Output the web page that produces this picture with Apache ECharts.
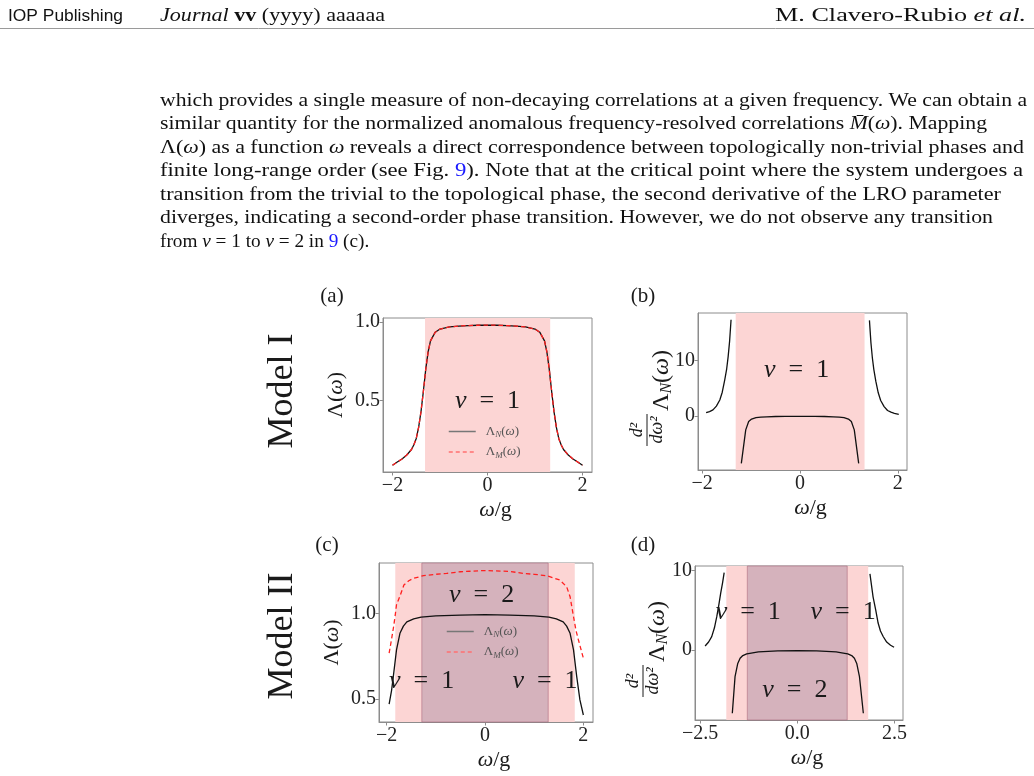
<!DOCTYPE html>
<html><head><meta charset="utf-8">
<script src="https://cdn.jsdelivr.net/npm/echarts@6/dist/echarts.min.js"></script>
<style>html,body{margin:0;padding:0;background:#fff}#c{width:1034px;height:776px}</style>
</head><body><div id="c"></div><script>
// ---------- data ----------
// Panel (a): Model I, Lambda(omega)
const omegaA = [-2.0,-1.9,-1.8,-1.7,-1.6,-1.55,-1.5,-1.45,-1.4,-1.35,-1.3,-1.25,-1.2,-1.1,-1.0,-0.8,-0.6,-0.4,-0.2,0,0.2,0.4,0.6,0.8,1.0,1.1,1.2,1.25,1.3,1.35,1.4,1.45,1.5,1.55,1.6,1.7,1.8,1.9,2.0];
const lambdaNA = [0.09,0.11,0.13,0.155,0.19,0.22,0.26,0.33,0.43,0.56,0.70,0.81,0.88,0.935,0.955,0.968,0.974,0.977,0.979,0.98,0.979,0.977,0.974,0.968,0.955,0.935,0.88,0.81,0.70,0.56,0.43,0.33,0.26,0.22,0.19,0.155,0.13,0.11,0.09];
const lambdaMA = [0.09,0.11,0.13,0.155,0.19,0.22,0.26,0.33,0.43,0.56,0.70,0.81,0.88,0.935,0.955,0.968,0.974,0.977,0.979,0.98,0.979,0.977,0.974,0.968,0.955,0.935,0.88,0.81,0.70,0.56,0.43,0.33,0.26,0.22,0.19,0.155,0.13,0.11,0.09];
// Panel (b): Model I, second derivative (three branches)
const omegaB1 = [-1.92,-1.85,-1.78,-1.71,-1.64,-1.59,-1.54,-1.5,-1.47,-1.44,-1.41];
const d2B1 = [0.6,0.8,1.1,1.8,2.9,4.3,6.5,8.5,10.7,13.5,17.4];
const omegaB2 = [-1.2,-1.11,-1.05,-0.99,-0.9,-0.8,-0.68,-0.5,-0.3,0,0.3,0.5,0.68,0.8,0.9,0.99,1.05,1.11,1.2];
const d2B2 = [-8.55,-2.5,-1.0,-0.55,-0.3,-0.2,-0.14,-0.09,-0.06,-0.05,-0.06,-0.09,-0.14,-0.2,-0.3,-0.55,-1.0,-2.5,-8.55];
const omegaB3 = [1.42,1.45,1.48,1.51,1.55,1.6,1.65,1.72,1.79,1.86,1.93,2.02];
const d2B3 = [17.3,13.3,10.5,8.4,6.3,4.2,2.8,1.7,1.0,0.7,0.5,0.3];
// Panel (c): Model II, Lambda_N and Lambda_M
const omegaNC = [-1.95,-1.9,-1.865,-1.8,-1.73,-1.66,-1.59,-1.45,-1.3,-1.0,-0.5,0,0.5,1.0,1.3,1.45,1.59,1.66,1.73,1.8,1.865,1.93,2.0];
const lambdaNC = [0.47,0.55,0.63,0.786,0.883,0.925,0.95,0.968,0.978,0.985,0.99,0.992,0.99,0.985,0.978,0.968,0.95,0.925,0.883,0.786,0.63,0.494,0.406];
const omegaMC = [-1.95,-1.9,-1.86,-1.83,-1.8,-1.73,-1.65,-1.55,-1.46,-1.25,-1.0,-0.78,-0.5,0,0.5,0.78,1.0,1.25,1.525,1.66,1.73,1.8,1.85,1.9,2.0];
const lambdaMC = [0.767,0.85,0.92,0.98,1.05,1.10,1.165,1.19,1.204,1.22,1.228,1.233,1.243,1.25,1.245,1.233,1.228,1.22,1.194,1.155,1.097,0.98,0.9,0.844,0.738];
// Panel (d): Model II, second derivative (three branches)
const omegaD1 = [-2.37,-2.28,-2.2,-2.13,-2.07,-2.02,-1.97,-1.92,-1.88];
const d2D1 = [0.5,1.0,1.68,2.8,4.2,5.6,7.15,8.5,9.75];
const omegaD2 = [-1.67,-1.6,-1.53,-1.47,-1.4,-1.3,-1.22,-1.0,-0.5,0,0.5,1.0,1.22,1.3,1.4,1.47,1.53,1.6,1.70];
const d2D2 = [-7.98,-3.36,-1.7,-1.05,-0.7,-0.5,-0.42,-0.25,-0.12,-0.08,-0.12,-0.25,-0.42,-0.5,-0.7,-1.05,-1.7,-3.36,-7.98];
const omegaD3 = [1.87,1.95,2.02,2.08,2.14,2.21,2.3,2.4,2.49];
const d2D3 = [9.6,6.7,5.0,3.4,2.4,1.7,1.0,0.6,0.34];
// phase boundaries
const phaseA = [-1.315, 1.32];
const phaseB = [-1.315, 1.32];
const phaseOuterII = [-1.825, 1.825];
const phaseInnerII = [-1.285, 1.285];
// tick values
const ticksX1 = [-2, 0, 2];
const ticksXD = [-2.5, 0, 2.5];
const ticksYA = [0.5, 1.0];
const ticksYB = [0, 10];
// paragraph text
const paraLines = [
  [['which provides a single measure of non-decaying correlations at a given frequency. We can obtain a','n']],
  [['similar quantity for the normalized anomalous frequency-resolved correlations ','n'],['M\u0304','i'],['(','n'],['ω','i'],['). Mapping','n']],
  [['Λ(','n'],['ω','i'],[') as a function ','n'],['ω','i'],[' reveals a direct correspondence between topologically non-trivial phases and','n']],
  [['finite long-range order (see Fig. ','n'],['9','b'],['). Note that at the critical point where the system undergoes a','n']],
  [['transition from the trivial to the topological phase, the second derivative of the LRO parameter','n']],
  [['diverges, indicating a second-order phase transition. However, we do not observe any transition','n']],
  [['from ','n'],['ν','i'],[' = 1 to ','n'],['ν','i'],[' = 2 in ','n'],['9','b'],[' (c).','n']]
];

// ---------- layout ----------
const FONT = '"Liberation Serif","DejaVu Serif",serif';
const INK = '#1a1a1a';
const FRAME = '#8c8c8c';
const LIGHT = '#fcd5d4';
const DARK = '#d5b2bc';
const zip = (xs, ys) => xs.map((x, i) => [x, ys[i]]);
const minus = v => String(v).replace('-', '\u2212');

const grids = [
  {left: 383, top: 318, width: 209, height: 154},
  {left: 698, top: 313, width: 209, height: 157},
  {left: 379, top: 563, width: 214, height: 159},
  {left: 695, top: 566, width: 208, height: 154}
].map(g => Object.assign(g, {show: true, borderColor: FRAME, borderWidth: 1, backgroundColor: 'transparent'}));

const richMath = {
  n: {fontFamily: FONT, fontSize: 22, color: INK},
  i: {fontFamily: FONT, fontSize: 22, color: INK, fontStyle: 'italic'}
};
function xAx(gi, min, max, ticks, fmt) {
  return {
    type: 'value', gridIndex: gi, min, max,
    name: '{i|ω}{n|/g}', nameLocation: 'middle', nameGap: 27,
    nameTextStyle: {rich: richMath, padding: [0, 0, 0, 16]},
    axisLine: {show: true, onZero: false, lineStyle: {color: FRAME}},
    axisTick: {show: true, length: 3.5, customValues: ticks, lineStyle: {color: FRAME}},
    axisLabel: {customValues: ticks, formatter: fmt, fontFamily: FONT, fontSize: 20, color: '#222', margin: 4},
    splitLine: {show: false}
  };
}
function yAx(gi, min, max, ticks, fmt, name) {
  return {
    type: 'value', gridIndex: gi, min, max,
    name: name || '', nameLocation: 'middle', nameGap: 36,
    nameTextStyle: {rich: richMath},
    axisLine: {show: true, onZero: false, lineStyle: {color: FRAME}},
    axisTick: {show: true, length: 3.5, customValues: ticks, lineStyle: {color: FRAME}},
    axisLabel: {customValues: ticks, formatter: fmt, fontFamily: FONT, fontSize: 20, color: '#222', margin: 3},
    splitLine: {show: false}
  };
}
const fmtInt = v => minus(Math.round(v * 10) / 10);
const fmt1 = v => minus(v.toFixed(1));

const nuRich = {
  i: {fontFamily: FONT, fontSize: 26, color: INK, fontStyle: 'italic'},
  n: {fontFamily: FONT, fontSize: 26, color: INK}
};
function nuMarks(list) {
  return {
    symbol: 'circle', symbolSize: 1, silent: true,
    itemStyle: {color: 'rgba(0,0,0,0)'},
    label: {show: true, position: 'inside', formatter: p => '{i|ν}{n|\u2002=\u2002' + p.name + '}', rich: nuRich},
    data: list.map(([v, c]) => ({name: v, coord: c}))
  };
}
function line(name, xi, data, color, dashed, extra) {
  return Object.assign({
    type: 'line', name, xAxisIndex: xi, yAxisIndex: xi, data,
    symbol: 'none', smooth: false, silent: true, animation: false,
    lineStyle: {color, width: 1.3, type: dashed ? [4.5, 3] : 'solid'},
    itemStyle: {color}, z: 3
  }, extra || {});
}
function area1(range) {
  return {silent: true, itemStyle: {color: LIGHT}, data: [[{xAxis: range[0]}, {xAxis: range[1]}]]};
}
function area2() {
  return {silent: true, data: [
    [{xAxis: phaseOuterII[0], itemStyle: {color: LIGHT}}, {xAxis: phaseOuterII[1]}],
    [{xAxis: phaseInnerII[0], itemStyle: {color: DARK, borderColor: 'rgba(170,100,120,0.55)', borderWidth: 1}}, {xAxis: phaseInnerII[1]}]
  ]};
}

const NAME_N = 'ΛN(ω)', NAME_M = 'ΛM(ω)';
const series = [
  line(NAME_N, 0, zip(omegaA, lambdaNA), '#111', false, {markArea: area1(phaseA), markPoint: nuMarks([['1', [0, 0.494]]])}),
  line(NAME_M, 0, zip(omegaA, lambdaMA), '#ff2020', true),
  line('b1', 1, zip(omegaB1, d2B1), '#111', false, {markArea: area1(phaseB), markPoint: nuMarks([['1', [-0.07, 8.3]]])}),
  line('b2', 1, zip(omegaB2, d2B2), '#111', false),
  line('b3', 1, zip(omegaB3, d2B3), '#111', false),
  line(NAME_N, 2, zip(omegaNC, lambdaNC), '#111', false, {markArea: area2(), markPoint: nuMarks([['2', [-0.07, 1.107]], ['1', [-1.29, 0.601]], ['1', [1.22, 0.601]]])}),
  line(NAME_M, 2, zip(omegaMC, lambdaMC), '#ff2020', true),
  line('d1', 3, zip(omegaD1, d2D1), '#111', false, {markArea: area2(), markPoint: nuMarks([['1', [-1.26, 4.83]], ['1', [1.18, 4.83]], ['2', [-0.06, -5.04]]])}),
  line('d2', 3, zip(omegaD2, d2D2), '#111', false),
  line('d3', 3, zip(omegaD3, d2D3), '#111', false)
];

const legRich = {
  m: {fontFamily: FONT, fontSize: 13, color: '#555'},
  mi: {fontFamily: FONT, fontSize: 13, color: '#555', fontStyle: 'italic'},
  s: {fontFamily: FONT, fontSize: 9, color: '#555', fontStyle: 'italic', padding: [7, 0, 0, 0]}
};
const HIDE = {color: 'rgba(0,0,0,0)', borderWidth: 0, borderColor: 'rgba(0,0,0,0)'};
function legend(left, top) {
  return {
    left, top, orient: 'vertical', padding: 0, itemWidth: 27, itemHeight: 14, itemGap: 6,
    selectedMode: false,
    data: [
      {name: NAME_N, lineStyle: {color: '#777', width: 1.5, type: 'solid'}, itemStyle: HIDE},
      {name: NAME_M, lineStyle: {color: '#ff7070', width: 1.5, type: [4, 3]}, itemStyle: HIDE}
    ],
    formatter: n => '{m|Λ}{s|' + (n === NAME_N ? 'N' : 'M') + '}{m|(}{mi|ω}{m|)}',
    textStyle: {rich: legRich, padding: [0, 0, 0, 5]}
  };
}

// ---------- page text (graphic) ----------
const ctx = document.createElement('canvas').getContext('2d');
function measureSegs(segs, size) {
  let w = 0;
  segs.forEach(([t, s]) => {
    ctx.font = (s === 'i' ? 'italic ' : '') + (s === 'bold' ? 'bold ' : '') + size + 'px "Liberation Serif"';
    w += ctx.measureText(t).width;
  });
  return w;
}
const PFS = 18.5;
const lineYs = [101, 124.5, 148, 171.5, 195, 218.5, 242];
const lineRight = [1027, 987, 1024, 1023, 1001, 993, 0];
const pRich = {
  n: {fontFamily: FONT, fontSize: PFS, fill: '#111'},
  i: {fontFamily: FONT, fontSize: PFS, fill: '#111', fontStyle: 'italic'},
  b: {fontFamily: FONT, fontSize: PFS, fill: '#1a1aff'}
};
const graphics = [];
paraLines.forEach((segs, k) => {
  const w = measureSegs(segs, PFS);
  const sx = lineRight[k] ? (lineRight[k] - 160) / w : 1.04;
  graphics.push({
    type: 'text', x: 160, y: lineYs[k], scaleX: sx, silent: true,
    style: {text: segs.map(([t, s]) => '{' + s + '|' + t + '}').join(''), rich: pRich, verticalAlign: 'middle', align: 'left', font: PFS + 'px ' + FONT, fill: '#111'}
  });
});
// header
const HFS = 18;
const hJournal = [['Journal', 'i'], [' ', 'n'], ['vv', 'bold'], [' (yyyy) aaaaaa', 'n']];
const hAuthor = [['M. Clavero-Rubio ', 'n'], ['et al.', 'i']];
const hRich = {
  n: {fontFamily: FONT, fontSize: HFS, fill: '#111'},
  i: {fontFamily: FONT, fontSize: HFS, fill: '#111', fontStyle: 'italic'},
  bold: {fontFamily: FONT, fontSize: HFS, fill: '#111', fontWeight: 'bold'}
};
ctx.font = '17px "Liberation Sans"';
const iopW = ctx.measureText('IOP Publishing').width;
graphics.push(
  {type: 'text', x: 8, y: 16, scaleX: 115 / iopW, silent: true, style: {text: 'IOP Publishing', font: '17px "Liberation Sans", sans-serif', fill: '#111', verticalAlign: 'middle'}},
  {type: 'text', x: 160, y: 16, scaleX: 225 / measureSegs(hJournal, HFS), silent: true,
    style: {text: hJournal.map(([t, s]) => '{' + s + '|' + t + '}').join(''), rich: hRich, font: HFS + 'px ' + FONT, fill: '#111', verticalAlign: 'middle'}},
  {type: 'text', x: 1026, y: 16, scaleX: 251 / measureSegs(hAuthor, HFS), silent: true,
    style: {text: hAuthor.map(([t, s]) => '{' + s + '|' + t + '}').join(''), rich: hRich, font: HFS + 'px ' + FONT, fill: '#111', verticalAlign: 'middle', align: 'right'}},
  {type: 'line', silent: true, shape: {x1: 0, y1: 28.5, x2: 1034, y2: 28.5}, style: {stroke: '#9a9a9a', lineWidth: 1}}
);
// panel letters and model labels
[['(a)', 332, 296], ['(b)', 643, 296], ['(c)', 327, 545], ['(d)', 643, 545]].forEach(([t, x, y]) => {
  graphics.push({type: 'text', x, y, silent: true, style: {text: t, font: '21px ' + FONT, fill: INK, align: 'center', verticalAlign: 'middle'}});
});
[['Model I', 283, 391], ['Model II', 283, 636]].forEach(([t, x, y]) => {
  graphics.push({type: 'text', x, y, rotation: Math.PI / 2, silent: true, style: {text: t, font: '36px ' + FONT, fill: INK, align: 'center', verticalAlign: 'middle'}});
});
// second-derivative y labels (fraction), drawn as rotated groups
function d2Label(cx, cy) {
  return {
    type: 'group', x: cx, y: cy, rotation: Math.PI / 2, silent: true,
    children: [
      {type: 'text', x: -34, y: -18, style: {text: 'd²', font: 'italic 18px ' + FONT, fill: INK, align: 'center', verticalAlign: 'middle'}},
      {type: 'line', shape: {x1: -50, y1: -8, x2: -18, y2: -8}, style: {stroke: INK, lineWidth: 1}},
      {type: 'text', x: -34, y: 2, style: {text: 'dω²', font: 'italic 18px ' + FONT, fill: INK, align: 'center', verticalAlign: 'middle'}},
      {type: 'text', x: -15, y: 7, style: {text: '{n|Λ}{s|N}{n|(}{i|ω}{n|)}', align: 'left', verticalAlign: 'middle', font: '24px ' + FONT, fill: INK,
        rich: {n: {fontFamily: FONT, fontSize: 24, fill: INK}, i: {fontFamily: FONT, fontSize: 24, fill: INK, fontStyle: 'italic'},
               s: {fontFamily: FONT, fontSize: 16, fill: INK, fontStyle: 'italic', padding: [10, 0, 0, 0]}}}}
    ]
  };
}
graphics.push(d2Label(655, 396), d2Label(651, 647));

const option = {
  animation: false,
  backgroundColor: '#fff',
  grid: grids,
  xAxis: [
    xAx(0, -2.2, 2.2, ticksX1, fmtInt),
    xAx(1, -2.086, 2.188, ticksX1, fmtInt),
    xAx(2, -2.156, 2.196, ticksX1, fmtInt),
    xAx(3, -2.63, 2.72, ticksXD, fmt1)
  ],
  yAxis: [
    yAx(0, 0.047, 1.025, ticksYA, fmt1, '{n|Λ(}{i|ω}{n|)}'),
    yAx(1, -9.76, 18.63, ticksYB, fmtInt),
    yAx(2, 0.365, 1.294, ticksYA, fmt1, '{n|Λ(}{i|ω}{n|)}'),
    yAx(3, -8.83, 10.59, ticksYB, fmtInt)
  ],
  legend: [legend(448, 425), legend(446, 625)],
  series,
  graphic: {elements: graphics}
};
const chart = echarts.init(document.getElementById('c'), null, {renderer: 'canvas'});
chart.setOption(option);
</script></body></html>
